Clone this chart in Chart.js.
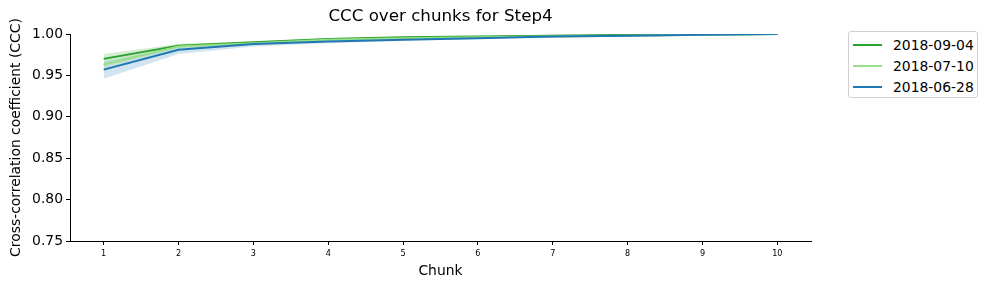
<!DOCTYPE html>
<html>
<head>
<meta charset="utf-8">
<script src="https://cdn.jsdelivr.net/npm/chart.js@4.4.1/dist/chart.umd.min.js"></script>
<style>
  html, body { margin: 0; padding: 0; background: #fff; }
  #wrap { position: relative; width: 988px; height: 290px; }
  #legende {
    position: absolute; left: 848px; top: 31px; width: 130px; height: 67px;
    border: 1px solid #d0d0d0; border-radius: 3px; background: #fff;
    font-family: 'DejaVu Sans', sans-serif; font-size: 13.9px; color: #000;
    box-sizing: border-box;
  }
  .ligne { position: absolute; left: 4px; height: 16px; display: flex; align-items: center; white-space: nowrap; }
  .ligne span.trait { display: inline-block; width: 29px; height: 2px; margin-right: 11px; }
</style>
</head>
<body>
<div id="wrap">
  <canvas id="chart-ccc" width="988" height="290"></canvas>
  <div id="legende"></div>
</div>
<script>
/* ── Données ─────────────────────────────────────────────── */
const chunks = [1, 2, 3, 4, 5, 6, 7, 8, 9, 10];
const seriesLabels = ['2018-09-04', '2018-07-10', '2018-06-28'];
const seriesColors = ['#2ca02c', '#98df8a', '#1f77b4'];

const ccc0904 = [0.970, 0.986, 0.990, 0.994, 0.996, 0.997, 0.998, 0.999, 0.9995, 1.0];
const ccc0710 = [0.963, 0.985, 0.989, 0.993, 0.995, 0.996, 0.997, 0.998, 0.999, 1.0];
const ccc0628 = [0.957, 0.981, 0.988, 0.991, 0.993, 0.995, 0.997, 0.998, 0.999, 1.0];

/* Intervalles (bas / haut) autour de chaque courbe */
const bas0904  = [0.964, 0.984, 0.989, 0.993, 0.995, 0.996, 0.997, 0.998, 0.999, 1.0];
const haut0904 = [0.976, 0.988, 0.991, 0.995, 0.997, 0.998, 0.999, 0.9995, 1.0, 1.0];
const bas0710  = [0.955, 0.981, 0.987, 0.992, 0.994, 0.995, 0.996, 0.997, 0.998, 1.0];
const haut0710 = [0.972, 0.988, 0.991, 0.994, 0.996, 0.997, 0.998, 0.999, 0.9995, 1.0];
const bas0628  = [0.946, 0.976, 0.985, 0.989, 0.992, 0.994, 0.996, 0.997, 0.998, 1.0];
const haut0628 = [0.966, 0.985, 0.990, 0.993, 0.995, 0.996, 0.998, 0.999, 0.9995, 1.0];

const yTicks = [0.75, 0.80, 0.85, 0.90, 0.95, 1.00];

const moyennes = [ccc0904, ccc0710, ccc0628];
const bas      = [bas0904, bas0710, bas0628];
const hauts    = [haut0904, haut0710, haut0628];

/* ── Utilitaires ─────────────────────────────────────────── */
const pts = vals => chunks.map((c, i) => ({ x: c, y: vals[i] }));
const rgba = (hex, a) => {
  const n = parseInt(hex.slice(1), 16);
  return `rgba(${n >> 16}, ${(n >> 8) & 255}, ${n & 255}, ${a})`;
};

/* Bandes d'abord (bas puis haut rempli vers '-1'), courbes ensuite */
const datasets = [];
seriesLabels.forEach((lab, k) => {
  datasets.push({
    label: lab + ' bas', data: pts(bas[k]), borderWidth: 0, pointRadius: 0,
    borderColor: 'transparent', fill: false, order: 20 - k,
  });
  datasets.push({
    label: lab + ' haut', data: pts(hauts[k]), borderWidth: 0, pointRadius: 0,
    borderColor: 'transparent', fill: '-1', backgroundColor: rgba(seriesColors[k], 0.2),
    order: 20 - k,
  });
});
seriesLabels.forEach((lab, k) => {
  datasets.push({
    label: lab, data: pts(moyennes[k]), borderColor: seriesColors[k], borderWidth: 2,
    pointRadius: 0, fill: false, tension: 0, order: 5 - k,
  });
});

/* ── Graphique ───────────────────────────────────────────── */
Chart.defaults.font.family = "'DejaVu Sans', sans-serif";
Chart.defaults.color = '#000';

new Chart(document.getElementById('chart-ccc').getContext('2d'), {
  type: 'line',
  data: { datasets },
  options: {
    responsive: false,
    animation: false,
    layout: { padding: { left: 0, right: 177, top: 0, bottom: 0 } },
    plugins: {
      legend: { display: false },
      tooltip: { enabled: false },
      title: {
        display: true, text: 'CCC over chunks for Step4', fullSize: false,
        color: '#000', font: { size: 16.7, weight: 'normal' },
        padding: { top: 7, bottom: 7 },
      },
    },
    scales: {
      x: {
        type: 'linear', min: 0.55, max: 10.45,
        afterBuildTicks: s => { s.ticks = chunks.map(v => ({ value: v })); },
        afterFit: s => { s.height = 49; },
        grid: { drawOnChartArea: false, drawTicks: true, tickLength: 4, color: '#000' },
        border: { display: true, color: '#000', width: 1 },
        ticks: {
          font: { size: 9, family: "'DejaVu Sans Condensed', 'Liberation Sans Narrow', sans-serif" },
          color: '#000', padding: 3, maxRotation: 0, callback: v => String(v),
        },
        title: { display: true, text: 'Chunk', color: '#000', font: { size: 13.9 }, padding: { top: 4, bottom: 10 } },
      },
      y: {
        min: 0.75, max: 1.0,
        afterBuildTicks: s => { s.ticks = yTicks.map(v => ({ value: v })); },
        afterFit: s => { s.width = 70; },
        grid: { drawOnChartArea: false, drawTicks: true, tickLength: 4, color: '#000' },
        border: { display: true, color: '#000', width: 1 },
        ticks: { font: { size: 13.9 }, color: '#000', padding: 3, callback: v => Number(v).toFixed(2) },
        title: {
          display: true, text: 'Cross-correlation coefficient (CCC)', color: '#000',
          font: { size: 13.9 }, padding: { top: 8, bottom: 4 },
        },
      },
    },
  },
});

/* ── Légende HTML (à droite, hors du graphique) ─────────── */
const legende = document.getElementById('legende');
seriesLabels.forEach((lab, k) => {
  const row = document.createElement('div');
  row.className = 'ligne';
  row.style.top = (5 + k * 21) + 'px';
  row.innerHTML = `<span class="trait" style="background:${seriesColors[k]}"></span>${lab}`;
  legende.appendChild(row);
});
</script>
</body>
</html>
